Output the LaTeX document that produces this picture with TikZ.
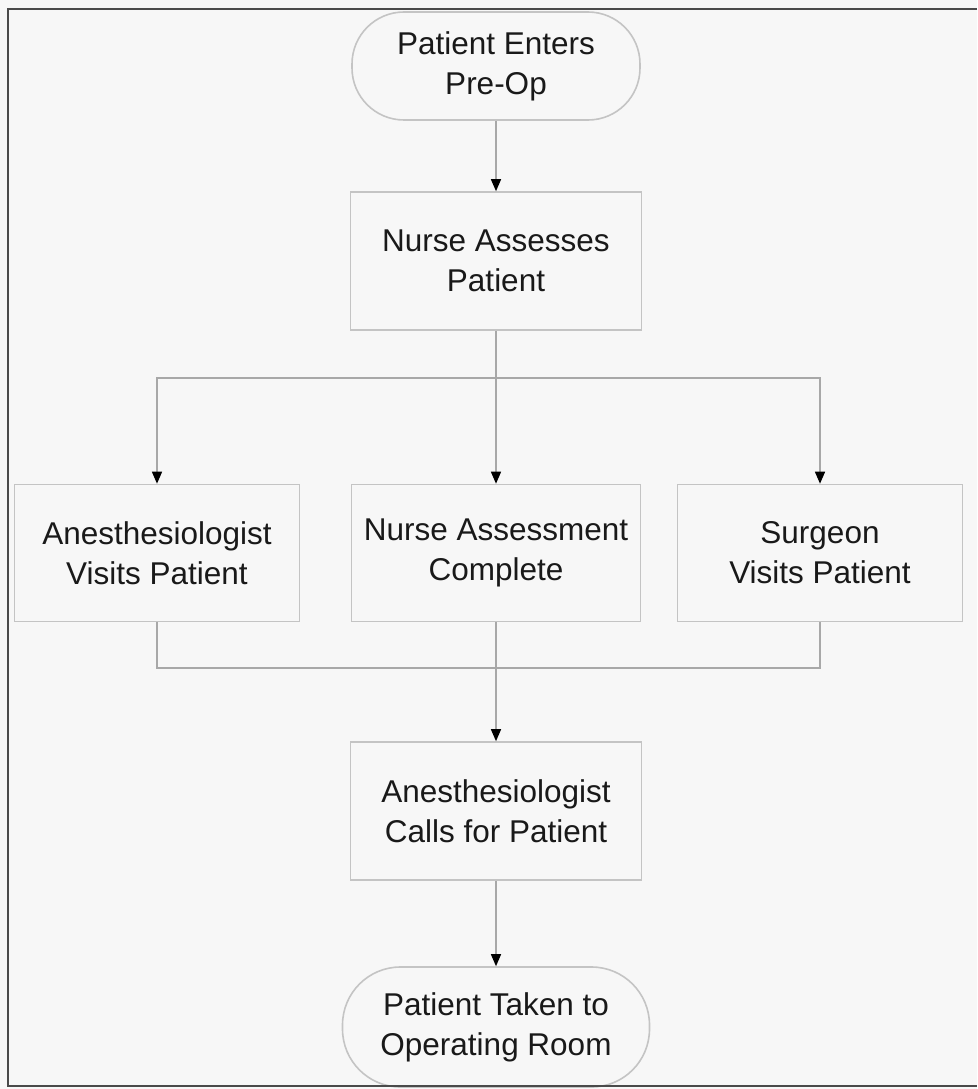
\documentclass[tikz,border=0pt]{standalone}
\usepackage{fontspec}
\setmainfont{Liberation Sans}
\usetikzlibrary{arrows.meta,shapes.misc}
\definecolor{bg}{HTML}{F7F7F7}
\definecolor{boxline}{HTML}{C4C4C4}
\definecolor{conn}{HTML}{A8A8A8}
\definecolor{frame}{HTML}{4A4A4A}
\tikzset{
  procbox/.style={draw=boxline, line width=1.6pt, fill=bg, align=center,
    font=\fontsize{31.5}{40}\selectfont, text=black!90},
  termbox/.style={procbox, rounded corners=52pt},
  conline/.style={draw=conn, line width=1.4pt},
  conarrow/.style={conline, -{Triangle[length=12pt,width=10pt,fill=black,color=black]}}
}
\begin{document}
\begin{tikzpicture}[x=1pt,y=-1pt]
\fill[bg] (0,0) rectangle (977,1089);
\useasboundingbox (0,0) rectangle (977,1089);
\node[termbox, minimum width=288pt, minimum height=108pt] (start) at (496,66) {Patient Enters\\Pre-Op};
\node[procbox, minimum width=291pt, minimum height=138pt] (assess) at (496,261) {Nurse Assesses\\Patient};
\node[procbox, minimum width=285pt, minimum height=137pt] (anes) at (157,553) {Anesthesiologist\\Visits Patient};
\node[procbox, minimum width=289pt, minimum height=137pt] (comp) at (496,553) {Nurse Assessment\\Complete};
\node[procbox, minimum width=285pt, minimum height=137pt] (surg) at (820,553) {Surgeon\\Visits Patient};
\node[procbox, minimum width=291pt, minimum height=138pt] (calls) at (496,811) {Anesthesiologist\\Calls for Patient};
\node[termbox, rounded corners=58pt, minimum width=307pt, minimum height=120pt] (finish) at (496,1027) {Patient Taken to\\Operating Room};
\coordinate (split) at (496,378);
\coordinate (join) at (496,668);
\draw[conarrow] (start.south) -- (assess.north);
\draw[conarrow] (assess.south) -- (comp.north);
\draw[conarrow] (split) -| (anes.north);
\draw[conarrow] (split) -| (surg.north);
\draw[conline] (anes.south) |- (join);
\draw[conline] (surg.south) |- (join);
\draw[conarrow] (comp.south) -- (calls.north);
\draw[conarrow] (calls.south) -- (finish.north);
\draw[frame, line width=2pt] (977,9) -- (8,9) -- (8,1086) -- (977,1086);
\end{tikzpicture}
\end{document}
